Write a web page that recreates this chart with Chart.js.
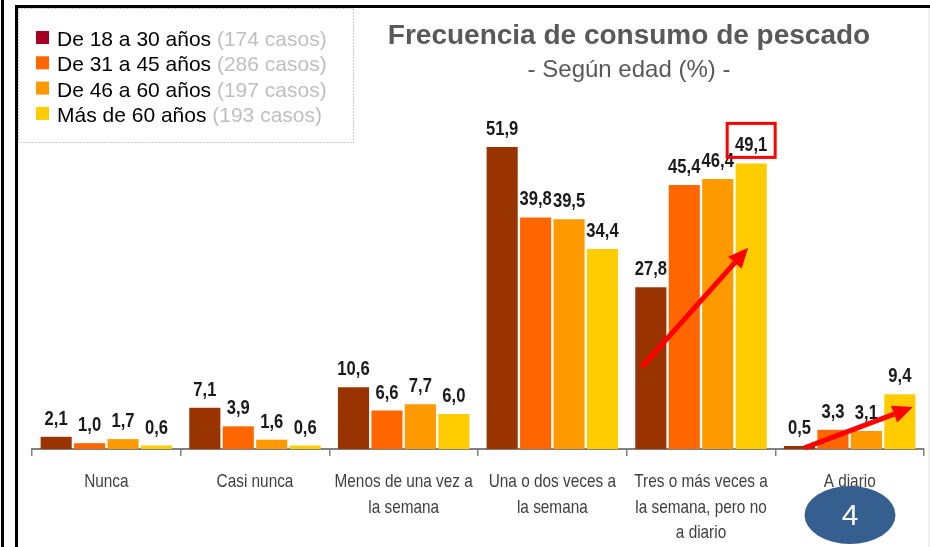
<!DOCTYPE html>
<html>
<head>
<meta charset="utf-8">
<script src="https://cdn.jsdelivr.net/npm/chart.js@4.4.1/dist/chart.umd.min.js"></script>
<style>
  body { margin: 0; background: #fff; }
  #wrap { position: relative; width: 930px; height: 547px; }
</style>
</head>
<body>
<div id="wrap"><canvas id="myChart"></canvas></div>
<script>
const categories = [
    'Nunca',
    'Casi nunca',
    ['Menos de una vez a', 'la semana'],
    ['Una o dos veces a', 'la semana'],
    ['Tres o más veces a', 'la semana, pero no', 'a diario'],
    'A diario'
];

const edad18_30 = [2.1, 7.1, 10.6, 51.9, 27.8, 0.5];
const edad31_45 = [1.0, 3.9, 6.6, 39.8, 45.4, 3.3];
const edad46_60 = [1.7, 1.6, 7.7, 39.5, 46.4, 3.1];
const edadMas60 = [0.6, 0.6, 6.0, 34.4, 49.1, 9.4];

const seriesNames = ['De 18 a 30 años', 'De 31 a 45 años', 'De 46 a 60 años', 'Más de 60 años'];
const seriesCases = ['(174 casos)', '(286 casos)', '(197 casos)', '(193 casos)'];
const barColors = ['#993300', '#FF6600', '#FF9900', '#FFCC00'];
const legendColors = ['#A50021', '#FF6600', '#FF9900', '#FFCC00'];

const SANS = '"Liberation Sans", Arial, sans-serif';
const NARROW_SCALE = 0.83; // imita Arial Narrow

// flechas de tendencia: [dataset, categoria, valor, desplazamiento x]
const arrows = [
    { from: [0, 4, 14.1, -9], to: [3, 4, 34.6, -3] },
    { from: [0, 5, 0.2, 5], to: [3, 5, 7.2, 13] }
];
const highlight = { dataset: 3, index: 4 };

function fmt(v) {
    return v.toFixed(1).replace('.', ',');
}

function narrowText(ctx, text, x, y) {
    ctx.save();
    ctx.translate(x, y);
    ctx.scale(NARROW_SCALE, 1);
    ctx.fillText(text, 0, 0);
    ctx.restore();
}

const extras = {
    id: 'extras',
    beforeDraw(chart) {
        const ctx = chart.ctx;
        ctx.save();
        // marcos negros
        ctx.strokeStyle = '#000';
        ctx.lineWidth = 3;
        ctx.beginPath();
        ctx.moveTo(2.5, 0); ctx.lineTo(2.5, 547);
        ctx.moveTo(16.5, 5); ctx.lineTo(16.5, 547);
        ctx.moveTo(15, 6.5); ctx.lineTo(930, 6.5);
        ctx.stroke();
        ctx.strokeStyle = '#eeeeee';
        ctx.lineWidth = 2;
        ctx.beginPath();
        ctx.moveTo(929, 8); ctx.lineTo(929, 547);
        ctx.stroke();

        // leyenda
        ctx.setLineDash([1, 2]);
        ctx.strokeStyle = '#999';
        ctx.lineWidth = 1;
        ctx.strokeRect(18.5, 8.5, 335, 134);
        ctx.setLineDash([]);
        ctx.font = '21px ' + SANS;
        ctx.textBaseline = 'alphabetic';
        ctx.textAlign = 'left';
        for (let i = 0; i < seriesNames.length; i++) {
            let y = 46 + i * 25.3;
            ctx.fillStyle = legendColors[i];
            ctx.fillRect(36, y - 15, 13, 13);
            ctx.fillStyle = '#000';
            ctx.fillText(seriesNames[i], 57, y);
            let w = ctx.measureText(seriesNames[i] + ' ').width;
            ctx.fillStyle = '#BFBFBF';
            ctx.fillText(seriesCases[i], 57 + w, y);
        }

        // titulo
        ctx.textAlign = 'center';
        ctx.fillStyle = '#595959';
        ctx.font = 'bold 28px ' + SANS;
        ctx.fillText('Frecuencia de consumo de pescado', 629, 44);
        ctx.font = '24px ' + SANS;
        ctx.fillText('- Según edad (%) -', 629, 77);
        ctx.restore();
    },
    afterDatasetsDraw(chart) {
        const ctx = chart.ctx;
        ctx.save();
        ctx.font = 'bold 20px ' + SANS;
        ctx.fillStyle = '#1a1a1a';
        ctx.textAlign = 'center';
        ctx.textBaseline = 'alphabetic';
        chart.data.datasets.forEach((ds, di) => {
            chart.getDatasetMeta(di).data.forEach((bar, i) => {
                narrowText(ctx, fmt(ds.data[i]), bar.x, bar.y - 12);
            });
        });
        // recuadro rojo
        const hb = chart.getDatasetMeta(highlight.dataset).data[highlight.index];
        ctx.strokeStyle = '#FF0000';
        ctx.lineWidth = 3;
        ctx.strokeRect(hb.x - 24, hb.y - 40, 48, 34);

        // etiquetas de categoria
        const xs = chart.scales.x;
        ctx.font = '18.5px ' + SANS;
        ctx.fillStyle = '#404040';
        categories.forEach((c, i) => {
            const lines = Array.isArray(c) ? c : [c];
            const x = xs.getPixelForValue(i);
            lines.forEach((t, k) => narrowText(ctx, t, x, 487 + k * 25.7));
        });
        ctx.restore();
    },
    afterDraw(chart) {
        const ctx = chart.ctx;
        const ys = chart.scales.y;
        ctx.save();
        arrows.forEach(a => {
            const b0 = chart.getDatasetMeta(a.from[0]).data[a.from[1]];
            const b1 = chart.getDatasetMeta(a.to[0]).data[a.to[1]];
            const x0 = b0.x + a.from[3], y0 = ys.getPixelForValue(a.from[2]);
            const x1 = b1.x + a.to[3], y1 = ys.getPixelForValue(a.to[2]);
            const ang = Math.atan2(y1 - y0, x1 - x0);
            const hl = 20, hw = 9;
            const bx = x1 - hl * Math.cos(ang), by = y1 - hl * Math.sin(ang);
            ctx.strokeStyle = '#FF0000';
            ctx.lineWidth = 5;
            ctx.beginPath();
            ctx.moveTo(x0, y0);
            ctx.lineTo(bx, by);
            ctx.stroke();
            ctx.fillStyle = '#FF0000';
            ctx.beginPath();
            ctx.moveTo(x1, y1);
            ctx.lineTo(bx + hw * Math.sin(ang), by - hw * Math.cos(ang));
            ctx.lineTo(bx - hw * Math.sin(ang), by + hw * Math.cos(ang));
            ctx.closePath();
            ctx.fill();
        });
        // numero de pagina
        ctx.fillStyle = '#355F8E';
        ctx.beginPath();
        ctx.ellipse(850, 515, 45.5, 29, 0, 0, Math.PI * 2);
        ctx.fill();
        ctx.fillStyle = '#fff';
        ctx.font = '30px ' + SANS;
        ctx.textAlign = 'center';
        ctx.textBaseline = 'middle';
        ctx.fillText('4', 850, 517);
        ctx.restore();
    }
};

const data = {
    labels: categories,
    datasets: [
        { label: seriesNames[0], data: edad18_30, backgroundColor: barColors[0] },
        { label: seriesNames[1], data: edad31_45, backgroundColor: barColors[1] },
        { label: seriesNames[2], data: edad46_60, backgroundColor: barColors[2] },
        { label: seriesNames[3], data: edadMas60, backgroundColor: barColors[3] }
    ]
};

const config = {
    type: 'bar',
    data: data,
    options: {
        responsive: true,
        maintainAspectRatio: false,
        animation: false,
        categoryPercentage: 0.9,
        barPercentage: 0.93,
        layout: { padding: { left: 32, right: 6, top: 100, bottom: 0 } },
        plugins: {
            legend: { display: false },
            title: { display: false },
            tooltip: { enabled: false }
        },
        scales: {
            x: {
                grid: {
                    display: true,
                    drawOnChartArea: false,
                    drawTicks: true,
                    tickLength: 7,
                    color: '#808080',
                    lineWidth: 1.5,
                    offset: true
                },
                border: { display: true, color: '#808080', width: 2 },
                ticks: {
                    color: 'rgba(0,0,0,0)',
                    padding: 12,
                    maxRotation: 0,
                    autoSkip: false,
                    font: { family: SANS, size: 12 }
                },
                afterFit(axis) { axis.height = 98; }
            },
            y: {
                display: false,
                min: 0,
                max: 60
            }
        }
    },
    plugins: [extras]
};

const ctxChart = document.getElementById('myChart').getContext('2d');
const chart = new Chart(ctxChart, config);
</script>
</body>
</html>
